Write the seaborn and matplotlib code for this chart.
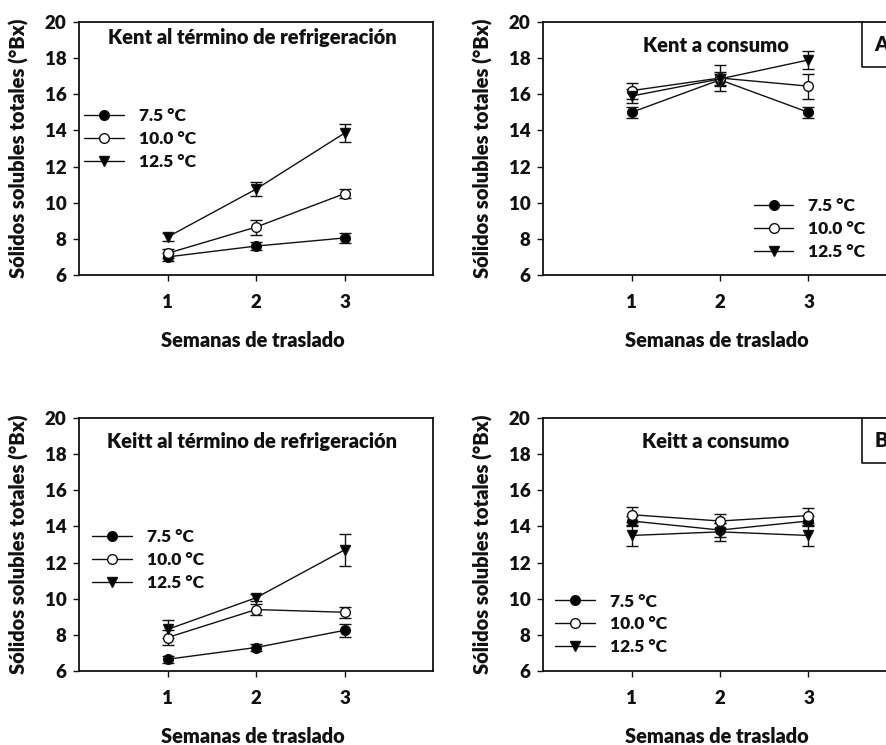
import matplotlib
matplotlib.use("Agg")
import matplotlib.pyplot as plt
from matplotlib.lines import Line2D
import seaborn as sns
import pandas as pd

sns.set_theme(style="white")
plt.rcParams['font.family'] = ['Lato', 'DejaVu Sans']
plt.rcParams['font.weight'] = 'bold'

weeks = [1, 2, 3]
temps = ["7.5 °C", "10.0 °C", "12.5 °C"]

# Kent al término de refrigeración
kent_ref_75 = [7.0, 7.6, 8.05]
kent_ref_100 = [7.2, 8.65, 10.5]
kent_ref_125 = [8.1, 10.75, 13.85]
kent_ref_err_75 = [0.2, 0.2, 0.3]
kent_ref_err_100 = [0.25, 0.42, 0.25]
kent_ref_err_125 = [0.2, 0.4, 0.5]

# Kent a consumo
kent_con_75 = [15.0, 16.8, 15.0]
kent_con_100 = [16.2, 16.9, 16.45]
kent_con_125 = [15.9, 16.85, 17.9]
kent_con_err_75 = [0.3, 0.3, 0.3]
kent_con_err_100 = [0.45, 0.7, 0.7]
kent_con_err_125 = [0.4, 0.4, 0.5]

# Keitt al término de refrigeración
keitt_ref_75 = [6.65, 7.3, 8.25]
keitt_ref_100 = [7.85, 9.4, 9.25]
keitt_ref_125 = [8.3, 10.05, 12.7]
keitt_ref_err_75 = [0.2, 0.2, 0.35]
keitt_ref_err_100 = [0.4, 0.3, 0.3]
keitt_ref_err_125 = [0.5, 0.2, 0.87]

# Keitt a consumo
keitt_con_75 = [14.3, 13.8, 14.3]
keitt_con_100 = [14.65, 14.3, 14.6]
keitt_con_125 = [13.5, 13.7, 13.5]
keitt_con_err_75 = [0.3, 0.4, 0.3]
keitt_con_err_100 = [0.4, 0.4, 0.4]
keitt_con_err_125 = [0.6, 0.5, 0.6]

titles = ["Kent al término de refrigeración", "Kent a consumo",
          "Keitt al término de refrigeración", "Keitt a consumo"]
ylabel = "Sólidos solubles totales (°Bx)"
xlabel = "Semanas de traslado"
yticks = [6, 8, 10, 12, 14, 16, 18, 20]

panels = [
    (kent_ref_75, kent_ref_100, kent_ref_125, kent_ref_err_75, kent_ref_err_100, kent_ref_err_125),
    (kent_con_75, kent_con_100, kent_con_125, kent_con_err_75, kent_con_err_100, kent_con_err_125),
    (keitt_ref_75, keitt_ref_100, keitt_ref_125, keitt_ref_err_75, keitt_ref_err_100, keitt_ref_err_125),
    (keitt_con_75, keitt_con_100, keitt_con_125, keitt_con_err_75, keitt_con_err_100, keitt_con_err_125),
]

W, H = 886, 745
fig = plt.figure(figsize=(W / 100, H / 100), dpi=100)

rects = [(79, 22), (543, 22), (79, 418), (543, 418)]
aw, ah = 354, 253
title_y = [0.937, 0.909, 0.909, 0.909]
legend_anchor = [(0.005, 0.675), (0.585, 0.318), (0.027, 0.574), (0.025, 0.32)]
letters = [None, "A", None, "B"]

markers = ["o", "o", "v"]
faces = ["black", "white", "black"]
ink = "#111111"
W_TXT = "heavy"

for i, (px, py) in enumerate(rects):
    ax = fig.add_axes([px / W, 1 - (py + ah) / H, aw / W, ah / H])
    vals = panels[i]
    for k in range(3):
        df = pd.DataFrame({"week": weeks, "val": vals[k]})
        ax.errorbar(weeks, vals[k], yerr=vals[k + 3], fmt="none", ecolor=ink,
                    elinewidth=1.0, capsize=4.5, capthick=1.0, zorder=2)
        sns.lineplot(data=df, x="week", y="val", ax=ax, color=ink, lw=1.0,
                     marker=markers[k], markersize=7.0, markerfacecolor=faces[k],
                     markeredgecolor=ink, markeredgewidth=1.0, zorder=3 + k)
    ax.set_xlim(0, 4)
    ax.set_ylim(6, 20)
    ax.set_xticks(weeks)
    ax.set_yticks(yticks)
    ax.set_xticklabels([str(w) for w in weeks], fontsize=13.5, fontweight=W_TXT, color=ink)
    ax.set_yticklabels([str(v) for v in yticks], fontsize=13.5, fontweight=W_TXT, color=ink)
    ax.tick_params(axis="both", direction="out", length=4, width=1.0, color=ink, left=True, bottom=True)
    ax.tick_params(axis="x", pad=10)
    ax.tick_params(axis="y", pad=5)
    for s in ax.spines.values():
        s.set_color(ink)
        s.set_linewidth(1.3)
    ax.set_ylabel(ylabel, fontsize=14.5, fontweight=W_TXT, color=ink)
    ax.yaxis.set_label_coords(-0.141, 0.5)
    ax.set_xlabel(xlabel, fontsize=14.3, fontweight=W_TXT, color=ink)
    ax.xaxis.set_label_coords(0.49, -0.257)
    ax.xaxis.label.set_va("center")
    ax.text(0.489, title_y[i], titles[i], transform=ax.transAxes, ha="center", va="center",
            fontsize=14.5, fontweight=W_TXT, color=ink)
    handles = [Line2D([0], [0], color=ink, lw=1.0, marker=markers[k], markersize=7.0,
                      markerfacecolor=faces[k], markeredgecolor=ink) for k in range(3)]
    ax.legend(handles, temps, loc="upper left", bbox_to_anchor=legend_anchor[i], frameon=False,
              prop={"size": 12.5, "weight": W_TXT}, handlelength=2.3, handletextpad=0.85,
              labelspacing=0.4, borderpad=0.2, borderaxespad=0.0, labelcolor=ink)
    if letters[i]:
        bx = (862 - px) / aw
        by = 1 - (67 - 22) / ah
        ax.plot([bx, bx, 1.2], [1.0, by, by], transform=ax.transAxes, color=ink, lw=1.2,
                clip_on=False)
        ax.text(bx + 0.035, (1 + by) / 2, letters[i], transform=ax.transAxes, ha="left",
                va="center", fontsize=14.5, fontweight=W_TXT, color=ink)

fig.savefig("out.png", dpi=100)
